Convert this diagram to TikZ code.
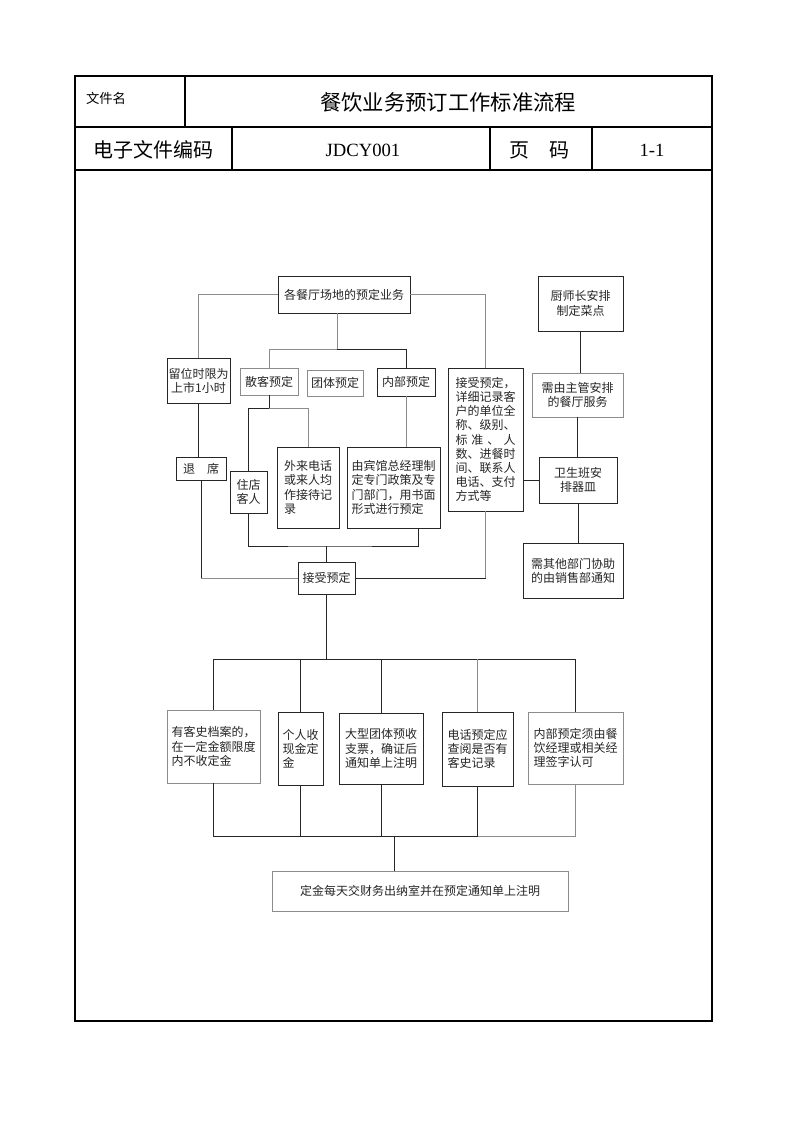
\documentclass[tikz,border=0pt]{standalone}
\usepackage{fontspec}
\setmainfont{Liberation Serif}
\newfontfamily\cjk{Noto Sans CJK SC}
\begin{document}
\begin{tikzpicture}[x=0.75pt,y=-0.75pt,
  dk/.style={draw=black!85,line width=0.6pt},
  lt/.style={draw=black!45,line width=0.6pt},
  box/.style={rectangle,inner sep=0pt,outer sep=0pt,align=left,
    font=\cjk\fontsize{9}{10.6}\selectfont,text=black!85},
  hd/.style={inner sep=0pt,outer sep=0pt}]
\newcommand{\bx}[7][]{\node[box,#1,minimum width={(#5-#3)*0.75pt},minimum height={(#6-#4)*0.75pt}] (#2) at ({(#3+#5)/2},{(#4+#6)/2}) {#7};}
\useasboundingbox[fill=white] (0,0) rectangle (793,1122);
% header table
\draw[black,line width=0.8pt] (75,76) rectangle (712,1021);
\draw[black,line width=0.8pt] (75,127) -- (712,127) (75,170) -- (712,170)
  (185,76) -- (185,127) (232,127) -- (232,170) (490,127) -- (490,170) (592,127) -- (592,170);
\node[hd,font=\cjk\fontsize{10}{12}\selectfont] (fname) at (106,98) {文件名};
\node[hd,font=\cjk\fontsize{16}{18}\selectfont] (title) at (448,102) {餐饮业务预订工作标准流程};
\node[hd,font=\cjk\fontsize{15}{17}\selectfont] (code) at (153,150) {电子文件编码};
\node[hd,font=\fontsize{14}{16}\selectfont] (codev) at (363,150) {JDCY001};
\node[hd,font=\cjk\fontsize{15}{17}\selectfont] (page) at (539,150) {页\hspace{1em}码};
\node[hd,font=\fontsize{14}{16}\selectfont] (pagev) at (652,150) {1-1};
% flow boxes
\bx[dk]{top}{278}{276}{410}{313}{各餐厅场地的预定业务}
\bx[dk,align=center]{liuwei}{167}{358}{230}{403}{留位时限为\\上市1小时}
\bx[lt]{sanke}{240}{368}{298}{395}{散客预定}
\bx[lt]{tuanti}{307}{370}{363}{396}{团体预定}
\bx[dk]{neibu}{377}{368}{435}{396}{内部预定}
\bx[dk]{detail}{448}{368}{523}{511}{接受预定，\\详细记录客\\户的单位全\\称、级别、\\\hbox to 5em{标\hfil 准\hfil 、\hfil 人}\\数、进餐时\\间、联系人\\电话、支付\\方式等}
\bx[dk,align=center]{chef}{538}{276}{623}{331}{厨师长安排\\制定菜点}
\bx[lt,align=center]{xuyou}{532}{373}{623}{417}{需由主管安排\\的餐厅服务}
\bx[dk,align=center]{weisheng}{539}{457}{617}{503}{卫生班安\\排器皿}
\bx[dk,align=center]{xuqi}{523}{543}{623}{598}{需其他部门协助\\的由销售部通知}
\bx[dk]{tuixi}{176}{457}{226}{480}{退\hspace{1em}席}
\bx[dk,align=center]{zhudian}{230}{471}{267}{513}{住店\\客人}
\bx[dk]{wailai}{277}{447}{339}{528}{外来电话\\或来人均\\作接待记\\录}
\bx[dk]{youbin}{347}{447}{440}{528}{由宾馆总经理制\\定专门政策及专\\门部门，用书面\\形式进行预定}
\bx[dk]{jieshou}{298}{562}{355}{594}{接受预定}
\bx[lt]{b1}{167}{710}{260}{783}{有客史档案的，\\在一定金额限度\\内不收定金}
\bx[dk]{b2}{278}{712}{323}{785}{个人收\\现金定\\金}
\bx[dk]{b3}{339}{713}{423}{784}{大型团体预收\\支票，确证后\\通知单上注明}
\bx[dk]{b4}{442}{712}{513}{786}{电话预定应\\查阅是否有\\客史记录}
\bx[lt]{b5}{528}{712}{623}{784}{内部预定须由餐\\饮经理或相关经\\理签字认可}
\bx[lt]{final}{272}{871}{568}{911}{定金每天交财务出纳室并在预定通知单上注明}
% junctions
\coordinate (j1) at (337,349);
\coordinate (j2) at (269,408);
\coordinate (j3) at (326.5,546);
\coordinate (j4) at (326.5,659);
\coordinate (j5) at (394,836);
% connectors
\draw[lt] (top.west) -| (liuwei.north);
\draw[lt] (top.east) -| (detail.north);
\draw[lt] (top.south -| j1) -- (j1);
\draw[lt] (sanke.north) |- (j1);
\draw[dk] (j1) -| (neibu.north);
\draw[dk] (sanke.south) -- (j2);
\draw[dk] (zhudian.north) |- (j2);
\draw[lt] (j2) -| (wailai.north);
\draw[lt] (neibu.south) -- (neibu.south |- youbin.north);
\draw[dk] (zhudian.south) |- (j3) -| (418,528);
\draw[dk] (j3) -- (jieshou.north);
\draw[dk] (liuwei.south) -- (liuwei.south |- tuixi.north);
\draw[dk] (tuixi.south) -- (tuixi.south |- jieshou.west);
\draw[lt] (tuixi.south |- jieshou.west) -- (jieshou.west);
\draw[lt] (detail.south) -- (detail.south |- jieshou.east);
\draw[dk] (detail.south |- jieshou.east) -- (jieshou.east);
\draw[dk] (chef.south) -- (chef.south |- xuyou.north);
\draw[dk] (xuyou.south) -- (xuyou.south |- weisheng.north);
\draw[dk] (weisheng.west) -- (weisheng.west -| detail.east);
\draw[dk] (weisheng.south) -- (weisheng.south |- xuqi.north);
\draw[dk] (jieshou.south) -- (j4);
\draw[dk] (b1.north) |- (j4) -| (b5.north);
\draw[dk] (b2.north) -- (b2.north |- j4);
\draw[dk] (b3.north) -- (b3.north |- j4);
\draw[lt] (b4.north) -- (b4.north |- j4);
\draw[dk] (b1.south) |- (j5);
\draw[dk] (j5) -| (b4.south);
\draw[lt] (b4.south |- j5) -| (b5.south);
\draw[dk] (b2.south) -- (b2.south |- j5);
\draw[dk] (b3.south) -- (b3.south |- j5);
\draw[dk] (j5) -- (final.north -| j5);
\end{tikzpicture}
\end{document}
